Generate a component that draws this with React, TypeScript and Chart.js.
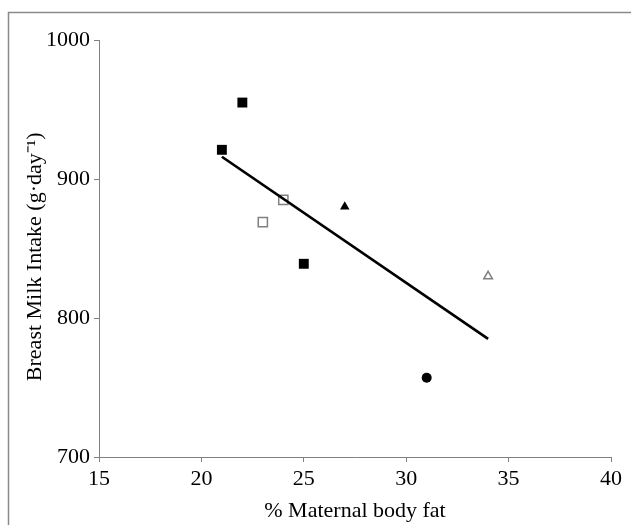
import React, { useEffect, useRef } from "react";
import { Chart, registerables } from "chart.js";

Chart.register(...registerables);

const filledSquareX = [21, 22, 25];
const filledSquareY = [921, 955, 839];
const openSquareX = [23, 24];
const openSquareY = [869, 885];
const filledTriangleX = [27];
const filledTriangleY = [880];
const openTriangleX = [34];
const openTriangleY = [830];
const filledCircleX = [31];
const filledCircleY = [757];
const trendX = [21, 34];
const trendY = [916, 785];

const xTicks = [15, 20, 25, 30, 35, 40];
const yTicks = [700, 800, 900, 1000];

const xTitle = "% Maternal body fat";
const yTitle = "Breast Milk Intake (g·day⁻¹)\u00a0\u00a0\u00a0";

const pts = (xs: number[], ys: number[]) => xs.map((x, i) => ({ x, y: ys[i] }));

const GREY = "#808080";
const FONT = "'Liberation Serif', 'Times New Roman', serif";

const frame = {
  id: "frame",
  beforeDraw(chart: any) {
    const ctx = chart.ctx;
    ctx.save();
    ctx.fillStyle = "#fff";
    ctx.fillRect(0, 0, chart.width, chart.height);
    ctx.strokeStyle = "#8a8a8a";
    ctx.lineWidth = 1.5;
    ctx.strokeRect(8.5, 12.5, 800, 700);
    ctx.restore();
  },
};

export default function App() {
  const ref = useRef<HTMLCanvasElement>(null);
  useEffect(() => {
    const chart = new Chart(ref.current!, {
      type: "scatter",
      data: {
        datasets: [
          {
            type: "line",
            data: pts(trendX, trendY),
            borderColor: "#000",
            borderWidth: 2.7,
            pointRadius: 0,
            fill: false,
          } as any,
          {
            data: pts(filledSquareX, filledSquareY),
            pointStyle: "rect",
            pointRadius: 7,
            backgroundColor: "#000",
            borderColor: "#000",
            borderWidth: 0,
          },
          {
            data: pts(openSquareX, openSquareY),
            pointStyle: "rect",
            pointRadius: 6.5,
            backgroundColor: "#fff",
            borderColor: GREY,
            borderWidth: 1.5,
          },
          {
            data: pts(filledTriangleX, filledTriangleY),
            pointStyle: "triangle",
            pointRadius: 5.5,
            backgroundColor: "#000",
            borderColor: "#000",
            borderWidth: 0,
          },
          {
            data: pts(openTriangleX, openTriangleY),
            pointStyle: "triangle",
            pointRadius: 5,
            backgroundColor: "#fff",
            borderColor: GREY,
            borderWidth: 1.5,
          },
          {
            data: pts(filledCircleX, filledCircleY),
            pointStyle: "circle",
            pointRadius: 5,
            backgroundColor: "#000",
            borderColor: "#000",
            borderWidth: 0,
          },
        ],
      },
      options: {
        animation: false,
        responsive: false,
        devicePixelRatio: 1,
        layout: { padding: { left: 0, top: 40, right: 20, bottom: 0 } },
        plugins: { legend: { display: false }, tooltip: { enabled: false } },
        scales: {
          x: {
            type: "linear",
            min: 15,
            max: 40,
            afterBuildTicks: (s: any) => {
              s.ticks = xTicks.map((v) => ({ value: v }));
            },
            afterFit: (s: any) => {
              s.height = 68;
            },
            grid: {
              drawOnChartArea: false,
              drawTicks: true,
              tickLength: 5,
              tickColor: GREY,
              tickWidth: 1,
            },
            border: { color: GREY, width: 1 },
            ticks: {
              color: "#000",
              font: { family: FONT, size: 22 },
              padding: 4,
              maxRotation: 0,
              callback: (v: any) => String(v),
            },
            title: {
              display: true,
              text: xTitle,
              color: "#000",
              font: { family: FONT, size: 22 },
              padding: { top: 0, bottom: 1 },
            },
          },
          y: {
            type: "linear",
            min: 700,
            max: 1000,
            afterBuildTicks: (s: any) => {
              s.ticks = yTicks.map((v) => ({ value: v }));
            },
            afterFit: (s: any) => {
              s.width = 99;
            },
            grid: {
              drawOnChartArea: false,
              drawTicks: true,
              tickLength: 5,
              tickColor: GREY,
              tickWidth: 1,
            },
            border: { color: GREY, width: 1 },
            ticks: {
              color: "#000",
              font: { family: FONT, size: 22 },
              padding: 4,
              callback: (v: any) => String(v),
            },
            title: {
              display: true,
              text: yTitle,
              color: "#000",
              font: { family: FONT, size: 22 },
              padding: { top: 22, bottom: 0 },
            },
          },
        },
      },
      plugins: [frame],
    } as any);
    return () => chart.destroy();
  }, []);
  return (
    <div style={{ position: "fixed", left: 0, top: 0, width: 631, height: 525 }}>
      <canvas ref={ref} width={631} height={525} style={{ width: 631, height: 525 }} />
    </div>
  );
}
